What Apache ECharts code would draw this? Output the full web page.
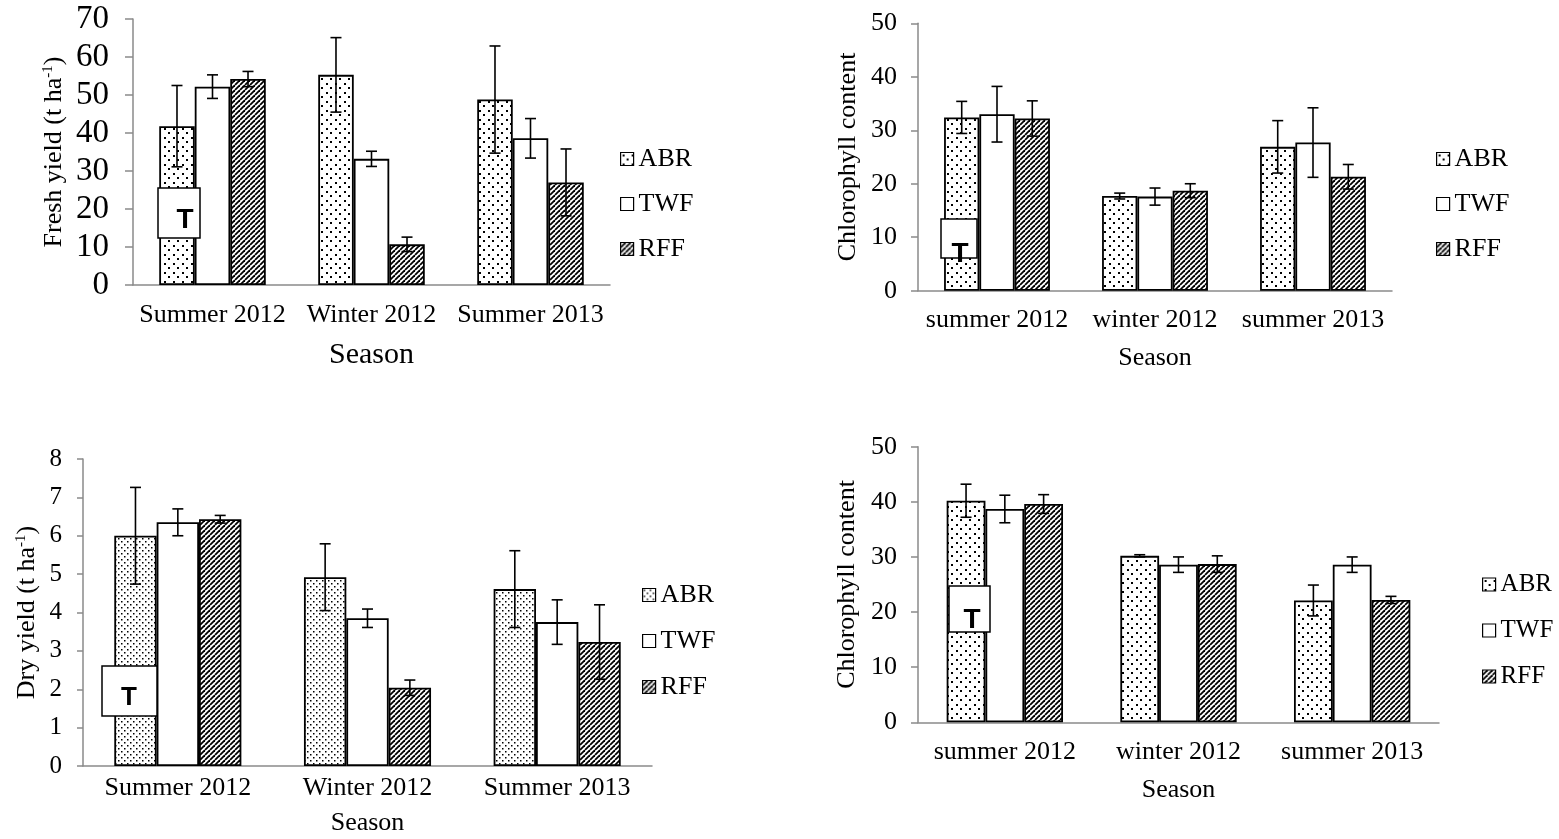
<!DOCTYPE html>
<html><head><meta charset="utf-8">
<script src="https://cdn.jsdelivr.net/npm/echarts@6/dist/echarts.min.js"></script>
<style>html,body{margin:0;padding:0;background:#fff}#c{width:1559px;height:839px}</style>
</head><body><div id="c"></div>
<script>
// ---------- data ----------
const seasonsUpper = ['Summer 2012', 'Winter 2012', 'Summer 2013'];
const seasonsLower = ['summer 2012', 'winter 2012', 'summer 2013'];
const treatments = ['ABR', 'TWF', 'RFF'];

// Fresh yield (t ha-1)
const freshABR = [41.8, 55.3, 48.8];
const freshABRErr = [10.7, 9.8, 14.1];
const freshTWF = [52.2, 33.2, 38.6];
const freshTWFErr = [3.1, 2.0, 5.2];
const freshRFF = [54.2, 10.7, 27.0];
const freshRFFErr = [2.0, 1.9, 8.8];

// Chlorophyll content (top right)
const chlTopABR = [32.4, 17.7, 26.9];
const chlTopABRErr = [3.0, 0.55, 4.9];
const chlTopTWF = [33.0, 17.6, 27.7];
const chlTopTWFErr = [5.2, 1.6, 6.5];
const chlTopRFF = [32.2, 18.7, 21.3];
const chlTopRFFErr = [3.3, 1.3, 2.3];

// Dry yield (t ha-1)
const dryABR = [6.0, 4.92, 4.61];
const dryABRErr = [1.26, 0.87, 1.0];
const dryTWF = [6.35, 3.85, 3.75];
const dryTWFErr = [0.35, 0.24, 0.58];
const dryRFF = [6.43, 2.04, 3.23];
const dryRFFErr = [0.1, 0.2, 0.97];

// Chlorophyll content (bottom right)
const chlBotABR = [40.2, 30.2, 22.1];
const chlBotABRErr = [3.0, 0.2, 2.8];
const chlBotTWF = [38.7, 28.6, 28.6];
const chlBotTWFErr = [2.5, 1.4, 1.4];
const chlBotRFF = [39.6, 28.7, 22.2];
const chlBotRFFErr = [1.7, 1.5, 0.65];

const yTicksFresh = {min: 0, max: 70, interval: 10};
const yTicksChl = {min: 0, max: 50, interval: 10};
const yTicksDry = {min: 0, max: 8, interval: 1};

// ---------- patterns ----------
const FONT = '"Liberation Serif", "Times New Roman", serif';
function makeDots(size, pts, r) {
  const c = document.createElement('canvas'); c.width = c.height = size;
  const x = c.getContext('2d');
  x.fillStyle = '#fff'; x.fillRect(0, 0, size, size);
  x.fillStyle = '#000';
  pts.forEach(p => x.fillRect(p[0], p[1], r, r));
  return c;
}
function makeStripes(size, lw) {
  const c = document.createElement('canvas'); c.width = c.height = size;
  const x = c.getContext('2d');
  x.fillStyle = '#fff'; x.fillRect(0, 0, size, size);
  x.strokeStyle = '#000'; x.lineWidth = lw;
  [-size, 0, size].forEach(o => { x.beginPath(); x.moveTo(o, size); x.lineTo(o + size, 0); x.stroke(); });
  return c;
}
const dotsSparse = {image: makeDots(9, [[2, 2], [6, 6]], 2), repeat: 'repeat'};
const dotsDense = {image: makeDots(6, [[1, 1], [4, 4]], 1.5), repeat: 'repeat'};
const stripes = {image: makeStripes(5, 1.8), repeat: 'repeat'};

const AX = '#8a8a8a';

function errRender(k, gap) {
  return function (params, api) {
    const cat = api.value(0), v = api.value(1), e = api.value(2);
    const band = api.size([1, 0])[0];
    const barW = band * (1 - gap) / 3;
    const c = api.coord([cat, v]);
    const x = c[0] + (k - 1) * barW;
    const yt = api.coord([cat, v + e])[1];
    const yb = api.coord([cat, v - e])[1];
    const hw = 5.5;
    const st = {stroke: '#000', lineWidth: 1.6};
    return {type: 'group', children: [
      {type: 'line', shape: {x1: x, y1: yt, x2: x, y2: yb}, style: st},
      {type: 'line', shape: {x1: x - hw, y1: yt, x2: x + hw, y2: yt}, style: st},
      {type: 'line', shape: {x1: x - hw, y1: yb, x2: x + hw, y2: yb}, style: st}
    ]};
  };
}

const GAP = 0.33;
const series = [];
function addPanel(g, vals, errs, fills) {
  for (let k = 0; k < 3; k++) {
    series.push({
      type: 'bar', name: treatments[k], xAxisIndex: g, yAxisIndex: g, data: vals[k],
      barGap: '0%', barCategoryGap: (GAP * 100) + '%',
      itemStyle: {color: fills[k], borderColor: '#000', borderWidth: 1.8},
      emphasis: {disabled: true}, silent: true
    });
  }
  for (let k = 0; k < 3; k++) {
    series.push({
      type: 'custom', name: 'err' + g + '_' + k, xAxisIndex: g, yAxisIndex: g, z: 5, silent: true,
      renderItem: errRender(k, GAP), encode: {x: 0, y: 1},
      data: vals[k].map((v, i) => [i, v, errs[k][i]])
    });
  }
}
addPanel(0, [freshABR, freshTWF, freshRFF], [freshABRErr, freshTWFErr, freshRFFErr], [dotsSparse, '#fff', stripes]);
addPanel(1, [chlTopABR, chlTopTWF, chlTopRFF], [chlTopABRErr, chlTopTWFErr, chlTopRFFErr], [dotsSparse, '#fff', stripes]);
addPanel(2, [dryABR, dryTWF, dryRFF], [dryABRErr, dryTWFErr, dryRFFErr], [dotsDense, '#fff', stripes]);
addPanel(3, [chlBotABR, chlBotTWF, chlBotRFF], [chlBotABRErr, chlBotTWFErr, chlBotRFFErr], [dotsSparse, '#fff', stripes]);

function xAx(g, cats, labelSize, margin, nameSize, nameGap) {
  return {
    type: 'category', gridIndex: g, data: cats,
    axisLine: {lineStyle: {color: AX, width: 1.5}},
    axisTick: {length: 7, lineStyle: {color: AX, width: 1.5}},
    axisLabel: {color: '#000', fontSize: labelSize, fontFamily: FONT, margin: margin, interval: 0},
    name: 'Season', nameLocation: 'middle', nameGap: nameGap,
    nameTextStyle: {color: '#000', fontSize: nameSize, fontFamily: FONT}
  };
}
function yAx(g, ticks, labelSize, margin, name, nameGap, tickLen) {
  return {
    type: 'value', gridIndex: g, min: ticks.min, max: ticks.max, interval: ticks.interval,
    axisLine: {show: true, lineStyle: {color: AX, width: 1.5}},
    axisTick: {show: true, length: tickLen, lineStyle: {color: AX, width: 1.5}},
    splitLine: {show: false},
    axisLabel: {color: '#000', fontSize: labelSize, fontFamily: FONT, margin: margin},
    name: name, nameLocation: 'middle', nameGap: nameGap, nameRotate: 90,
    nameTextStyle: {color: '#000', fontSize: 26, fontFamily: FONT,
      rich: {a: {fontSize: 26, fontFamily: FONT, color: '#000'},
             s: {fontSize: 15, fontFamily: FONT, color: '#000', verticalAlign: 'top', padding: [0, 0, 12, 0]}}}
  };
}
function legend(left, top, gap, fills, fs) {
  return {
    orient: 'vertical', left: left, top: top, itemGap: gap, itemWidth: 13, itemHeight: 13,
    icon: 'rect', selectedMode: false, padding: 0,
    textStyle: {color: '#000', fontSize: fs, fontFamily: FONT},
    itemStyle: {borderColor: '#000', borderWidth: 1.2},
    data: treatments.map((t, k) => ({name: t, itemStyle: {color: fills[k]}}))
  };
}
function tBox(x, y, w, h, tx, ty, fs) {
  return [
    {type: 'rect', z: 100, shape: {x: x, y: y, width: w, height: h}, style: {fill: '#fff', stroke: '#000', lineWidth: 1.5}},
    {type: 'text', z: 101, x: tx, y: ty, style: {text: 'T', fontSize: fs, fontWeight: 'bold', fontFamily: '"Liberation Sans", Arial, sans-serif', fill: '#000', align: 'center', verticalAlign: 'middle'}}
  ];
}

const option = {
  animation: false,
  backgroundColor: '#fff',
  grid: [
    {left: 133, top: 19, width: 477, height: 266},
    {left: 918, top: 23.3, width: 474, height: 267.4},
    {left: 83, top: 459, width: 569, height: 307},
    {left: 918, top: 446.7, width: 521, height: 275.6}
  ],
  xAxis: [
    xAx(0, seasonsUpper, 26, 17, 30, 55),
    xAx(1, seasonsLower, 26, 16, 26, 54),
    xAx(2, seasonsUpper, 26, 9, 26, 44),
    xAx(3, seasonsLower, 26, 17, 26, 55)
  ],
  yAxis: [
    yAx(0, yTicksFresh, 33, 24, '{a|Fresh yield (t ha}{s|-1}{a|)}', 65, 8),
    yAx(1, yTicksChl, 26, 21, 'Chlorophyll content', 57, 7),
    yAx(2, yTicksDry, 25, 21, '{a|Dry yield (t ha}{s|-1}{a|)}', 42, 6),
    yAx(3, yTicksChl, 26, 21, 'Chlorophyll content', 58, 7)
  ],
  legend: [
    legend(620, 146, 19, [dotsSparse, '#fff', stripes], 26),
    legend(1436, 146, 19, [dotsSparse, '#fff', stripes], 26),
    legend(642, 582, 20, [dotsDense, '#fff', stripes], 26),
    legend(1482, 572, 21, [dotsSparse, '#fff', stripes], 25)
  ],
  series: series,
  graphic: [].concat(
    tBox(158, 188, 42, 50, 185, 220, 28),
    tBox(941, 219, 36, 39, 960, 254, 28),
    tBox(102, 666, 55, 50, 129, 698, 26),
    tBox(949, 586, 41, 46, 972, 620, 28)
  )
};
const chart = echarts.init(document.getElementById('c'), null, {renderer: 'canvas'});
chart.setOption(option);
</script>
</body></html>
